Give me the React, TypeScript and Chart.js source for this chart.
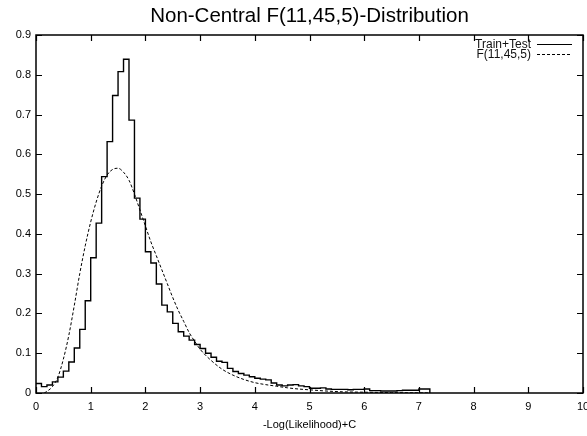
import React, { useEffect, useRef } from 'react';
import { Chart, registerables } from 'chart.js';

Chart.register(...registerables);

const FONT = '"Liberation Sans", Arial, Helvetica, sans-serif';

const titleText = 'Non-Central F(11,45,5)-Distribution';
const xAxisTitle = '-Log(Likelihood)+C';
const legendLabels = ['Train+Test', 'F(11,45,5)'];

// Histogram bin edges (left edges of each bin, plus final right edge)
const histEdges = [
  0.0, 0.1, 0.2, 0.3, 0.4, 0.5, 0.6, 0.7, 0.8, 0.9,
  1.0, 1.1, 1.2, 1.3, 1.4, 1.5, 1.6, 1.7, 1.8, 1.9,
  2.0, 2.1, 2.2, 2.3, 2.4, 2.5, 2.6, 2.7, 2.8, 2.9,
  3.0, 3.1, 3.2, 3.3, 3.4, 3.5, 3.6, 3.7, 3.8, 3.9,
  4.0, 4.1, 4.2, 4.3, 4.4, 4.5, 4.6, 4.7, 4.8, 4.9,
  5.0, 5.1, 5.2, 5.3, 5.4, 5.5, 5.6, 5.7, 5.8, 5.9,
  6.0, 6.1, 6.2, 6.3, 6.4, 6.5, 6.6, 6.7, 6.8, 6.9,
  7.0, 7.1, 7.2,
];

// Train+Test histogram heights (one per bin)
const histValues = [
  0.024, 0.016, 0.02, 0.028, 0.04, 0.055, 0.078, 0.113, 0.16, 0.232,
  0.34, 0.427, 0.544, 0.632, 0.748, 0.808, 0.839, 0.686, 0.49, 0.437,
  0.355, 0.327, 0.274, 0.221, 0.204, 0.175, 0.154, 0.143, 0.133, 0.122,
  0.112, 0.1, 0.09, 0.08, 0.077, 0.062, 0.054, 0.049, 0.045, 0.041,
  0.037, 0.035, 0.033, 0.025, 0.02, 0.018, 0.02, 0.021, 0.018, 0.016,
  0.012, 0.012, 0.013, 0.01, 0.009, 0.009, 0.009, 0.008, 0.009, 0.009,
  0.01, 0.006, 0.006, 0.005, 0.005, 0.005, 0.006, 0.007, 0.007, 0.007,
  0.01, 0.01,
];

// F(11,45,5) density curve points
const curveX = [
  0.15, 0.2, 0.3, 0.4, 0.5, 0.6, 0.7, 0.8, 0.9, 1.0,
  1.1, 1.2, 1.3, 1.4, 1.5, 1.6, 1.7, 1.8, 1.9, 2.0,
  2.1, 2.2, 2.3, 2.4, 2.5, 2.6, 2.7, 2.8, 2.9, 3.0,
  3.2, 3.4, 3.6, 3.8, 4.0, 4.2, 4.4, 4.6, 4.8, 5.0,
  5.3, 5.6, 6.0, 6.5, 7.0, 7.2,
];
const curveY = [
  0, 0.004, 0.016, 0.04, 0.085, 0.145, 0.22, 0.3, 0.37, 0.43,
  0.48, 0.52, 0.548, 0.562, 0.565, 0.555, 0.535, 0.5, 0.46, 0.42,
  0.38, 0.345, 0.31, 0.275, 0.24, 0.208, 0.18, 0.152, 0.13, 0.11,
  0.082, 0.06, 0.045, 0.034, 0.026, 0.021, 0.017, 0.013, 0.01, 0.008,
  0.005, 0.003, 0.002, 0.001, 0.0005, 0.0003,
];

const xTickValues = [0, 1, 2, 3, 4, 5, 6, 7, 8, 9, 10];
const xTickLabels = ['0', '1', '2', '3', '4', '5', '6', '7', '8', '9', '10'];
const yTickValues = [0, 0.1, 0.2, 0.3, 0.4, 0.5, 0.6, 0.7, 0.8, 0.9];
const yTickLabels = ['0', '0.1', '0.2', '0.3', '0.4', '0.5', '0.6', '0.7', '0.8', '0.9'];

const framePlugin = {
  id: 'frame',
  afterDatasetsDraw(chart: any) {
    const { ctx, chartArea: a, scales } = chart;
    const x = scales.x;
    const y = scales.y;
    ctx.save();

    // title, centred over the plot area
    ctx.font = '20.5px ' + FONT;
    ctx.fillStyle = '#000';
    ctx.textAlign = 'center';
    ctx.textBaseline = 'middle';
    ctx.fillText(titleText, (a.left + a.right) / 2, 16);

    ctx.strokeStyle = '#000';
    ctx.lineWidth = 1.5;
    ctx.strokeRect(a.left, a.top, a.right - a.left, a.bottom - a.top);
    ctx.lineWidth = 1.2;
    const L = 6;
    ctx.beginPath();
    xTickValues.forEach((v) => {
      const px = Math.round(x.getPixelForValue(v)) + 0.5;
      ctx.moveTo(px, a.bottom);
      ctx.lineTo(px, a.bottom - L);
      ctx.moveTo(px, a.top);
      ctx.lineTo(px, a.top + L);
    });
    yTickValues.forEach((v) => {
      const py = Math.round(y.getPixelForValue(v)) + 0.5;
      ctx.moveTo(a.left, py);
      ctx.lineTo(a.left + L, py);
      ctx.moveTo(a.right, py);
      ctx.lineTo(a.right - L, py);
    });
    ctx.stroke();

    // legend (inside top right)
    const textRight = a.right - 52;
    const lineStart = a.right - 46;
    const lineEnd = a.right - 11;
    const rows = [a.top + 9.5, a.top + 19.5];
    ctx.font = '12px ' + FONT;
    ctx.fillStyle = '#111';
    ctx.textAlign = 'right';
    ctx.textBaseline = 'middle';
    legendLabels.forEach((lab, i) => {
      ctx.fillText(lab, textRight, rows[i]);
    });
    ctx.lineWidth = 1.2;
    ctx.beginPath();
    ctx.setLineDash([]);
    ctx.moveTo(lineStart, rows[0]);
    ctx.lineTo(lineEnd, rows[0]);
    ctx.stroke();
    ctx.lineWidth = 1;
    ctx.beginPath();
    ctx.setLineDash([3, 2]);
    ctx.moveTo(lineStart, rows[1]);
    ctx.lineTo(lineEnd, rows[1]);
    ctx.stroke();
    ctx.restore();
  },
};

export default function App() {
  const canvasRef = useRef<HTMLCanvasElement | null>(null);

  useEffect(() => {
    if (!canvasRef.current) return;
    Chart.defaults.font.family = FONT;
    const histData = histEdges.map((xv, i) => ({
      x: xv,
      y: i < histValues.length ? histValues[i] : 0,
    }));
    const curveData = curveX.map((xv, i) => ({ x: xv, y: curveY[i] }));

    const chart = new Chart(canvasRef.current, {
      type: 'line',
      data: {
        datasets: [
          {
            label: legendLabels[0],
            data: histData,
            stepped: true,
            borderColor: '#000',
            borderWidth: 1.4,
            pointRadius: 0,
            fill: false,
          },
          {
            label: legendLabels[1],
            data: curveData,
            borderColor: '#000',
            borderWidth: 1,
            borderDash: [3, 2],
            pointRadius: 0,
            cubicInterpolationMode: 'monotone',
            fill: false,
          },
        ],
      },
      options: {
        animation: false,
        responsive: false,
        devicePixelRatio: 1,
        parsing: false as any,
        layout: { padding: { left: 0, right: 37, top: 35, bottom: 0 } },
        plugins: {
          legend: { display: false },
          tooltip: { enabled: false },
          title: { display: false },
        },
        scales: {
          x: {
            type: 'linear',
            min: 0,
            max: 10,
            grid: { display: false, drawTicks: false },
            border: { display: false },
            afterBuildTicks: (s: any) => {
              s.ticks = xTickValues.map((v) => ({ value: v }));
            },
            afterFit: (s: any) => {
              s.height = 43;
            },
            ticks: {
              autoSkip: false,
              maxRotation: 0,
              padding: 7,
              color: '#000',
              font: { family: FONT, size: 11 },
              callback: (_v: any, i: number) => xTickLabels[i],
            },
            title: {
              display: true,
              text: xAxisTitle,
              color: '#000',
              font: { family: FONT, size: 11 },
              padding: { top: 4, bottom: 4 },
            },
          },
          y: {
            type: 'linear',
            min: 0,
            max: 0.9,
            grid: { display: false, drawTicks: false },
            border: { display: false },
            afterBuildTicks: (s: any) => {
              s.ticks = yTickValues.map((v) => ({ value: v }));
            },
            afterFit: (s: any) => {
              s.width = 36;
            },
            ticks: {
              autoSkip: false,
              padding: 5,
              color: '#000',
              font: { family: FONT, size: 11 },
              callback: (_v: any, i: number) => yTickLabels[i],
            },
          },
        },
      },
      plugins: [framePlugin],
    });
    return () => chart.destroy();
  }, []);

  return (
    <div
      style={{
        position: 'fixed',
        left: 0,
        top: 0,
        width: 587,
        height: 436,
        overflow: 'hidden',
        background: '#fff',
      }}
    >
      <canvas
        ref={canvasRef}
        width={620}
        height={436}
        style={{ display: 'block', width: 620, height: 436 }}
      />
    </div>
  );
}
